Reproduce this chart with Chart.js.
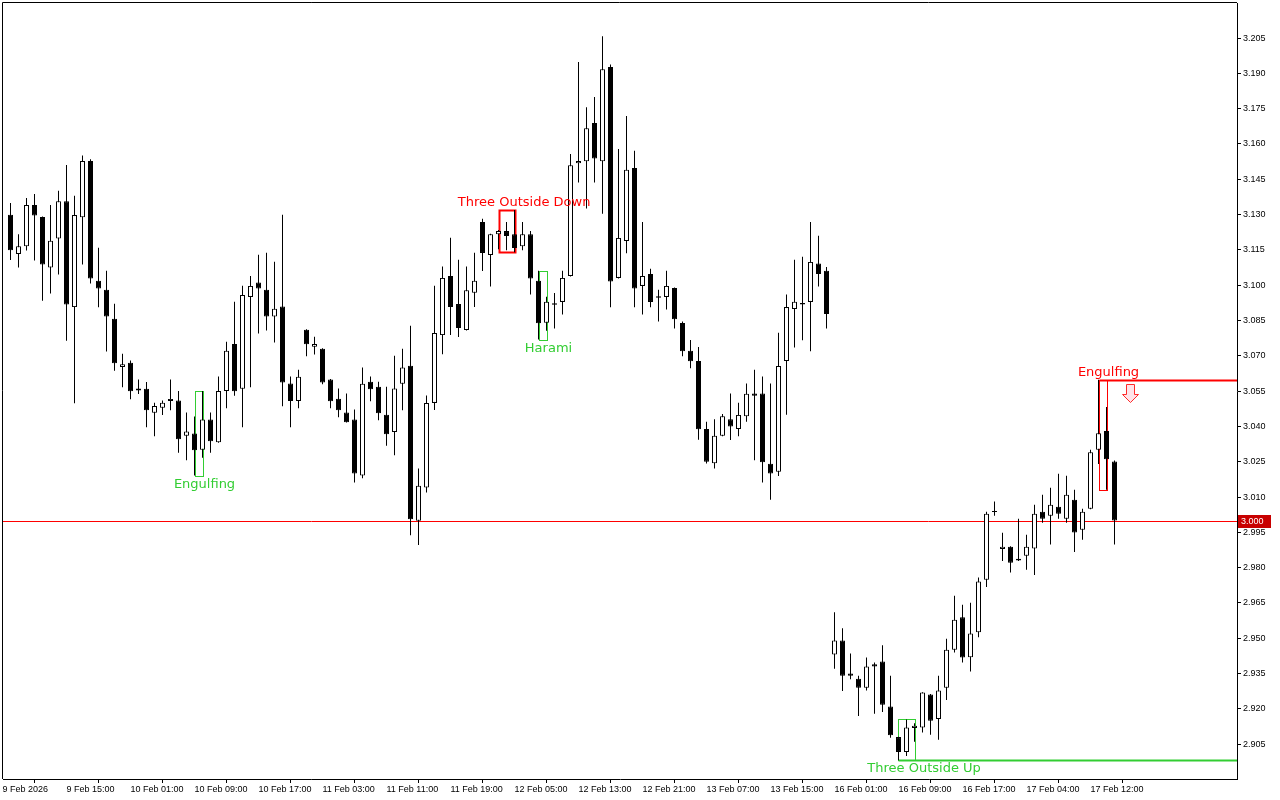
<!DOCTYPE html>
<html lang="en">
<head>
<meta charset="UTF-8">
<title>H1 Candles</title>
<script src="https://cdn.jsdelivr.net/npm/chart.js"></script>
<style>
  html, body { margin: 0; padding: 0; background: #fff; }
  #wrap { width: 1280px; height: 800px; }
</style>
</head>
<body>
<div id="wrap"><canvas id="priceChart"></canvas></div>
<script>
// H1 bars, 9 Feb 2026 .. 17 Feb 2026 (bar index 0 = first visible bar)
const opens = [
  3.1299, 3.1133, 3.1166, 3.1341, 3.1290, 3.1075, 3.1198, 3.1357, 3.0907, 3.1289,
  3.1528, 3.1019, 3.0981, 3.0858, 3.0652, 3.0671, 3.0553, 3.0560, 3.0458, 3.0479,
  3.0508, 3.0510, 3.0360, 3.0370, 3.0301, 3.0429, 3.0333, 3.0551, 3.0750, 3.0560,
  3.0950, 3.1011, 3.0981, 3.0867, 3.0909, 3.0582, 3.0508, 3.0811, 3.0738, 3.0730,
  3.0599, 3.0518, 3.0459, 3.0429, 3.0191, 3.0590, 3.0569, 3.0450, 3.0376, 3.0581,
  3.0658, 2.9999, 3.0141, 3.0500, 3.0788, 3.1039, 3.0920, 3.0810, 3.0968, 3.1269,
  3.1128, 3.1217, 3.1230, 3.1217, 3.1166, 3.1217, 3.1019, 3.0841, 3.0917, 3.0929,
  3.1039, 3.1518, 3.1527, 3.1689, 3.1527, 3.1927, 3.1031, 3.1188, 3.1498, 3.0997,
  3.1048, 3.0947, 3.0950, 3.0988, 3.0839, 3.0722, 3.0678, 3.0389, 3.0244, 3.0360,
  3.0430, 3.0389, 3.0443, 3.0540, 3.0540, 3.0241, 3.0207, 3.0678, 3.0899, 3.0918,
  3.0929, 3.1092, 3.1061, 2.9431, 2.9490, 2.9350, 2.9328, 2.9290, 2.9390, 2.9401,
  2.9210, 2.9080, 2.9017, 2.9119, 2.9121, 2.9261, 2.9157, 2.9290, 2.9451, 2.9589,
  2.9419, 2.9525, 2.9749, 3.0036, 2.9879, 2.9889, 2.9830, 2.9851, 2.9881, 3.0037,
  3.0020, 3.0059, 3.0008, 3.0088, 2.9961, 3.0050, 3.0301, 3.0381, 3.0251
];
const highs = [
  3.1349, 3.1217, 3.1371, 3.1388, 3.1292, 3.1341, 3.1401, 3.1511, 3.1380, 3.1551,
  3.1535, 3.1159, 3.1061, 3.0921, 3.0709, 3.0680, 3.0599, 3.0589, 3.0501, 3.0510,
  3.0599, 3.0551, 3.0459, 3.0442, 3.0551, 3.0459, 3.0612, 3.0760, 3.0930, 3.0998,
  3.1039, 3.1129, 3.1138, 3.1100, 3.1299, 3.0612, 3.0641, 3.0813, 3.0781, 3.0732,
  3.0601, 3.0561, 3.0540, 3.0472, 3.0650, 3.0612, 3.0590, 3.0569, 3.0700, 3.0730,
  3.0828, 3.0221, 3.0531, 3.0998, 3.1079, 3.1202, 3.1108, 3.1079, 3.1138, 3.1282,
  3.1219, 3.1235, 3.1269, 3.1320, 3.1269, 3.1230, 3.1061, 3.0951, 3.0967, 3.1061,
  3.1557, 3.1948, 3.1756, 3.1800, 3.2058, 3.1938, 3.1579, 3.1719, 3.1571, 3.1269,
  3.1070, 3.0981, 3.1061, 3.0990, 3.0846, 3.0767, 3.0737, 3.0420, 3.0430, 3.0453,
  3.0540, 3.0501, 3.0582, 3.0641, 3.0612, 3.0582, 3.0798, 3.0961, 3.1108, 3.1121,
  3.1269, 3.1210, 3.1077, 2.9610, 2.9542, 2.9435, 2.9341, 2.9418, 2.9397, 2.9470,
  2.9341, 2.9082, 2.9155, 2.9139, 2.9271, 2.9263, 2.9341, 2.9498, 2.9681, 2.9642,
  2.9651, 2.9758, 3.0037, 3.0081, 2.9948, 2.9891, 3.0008, 2.9940, 3.0067, 3.0110,
  3.0139, 3.0199, 3.0190, 3.0131, 3.0050, 3.0301, 3.0598, 3.0483, 3.0255
];
const lows = [
  3.1107, 3.1075, 3.1147, 3.1105, 3.0934, 3.0965, 3.1046, 3.0764, 3.0498, 3.1088,
  3.1007, 3.0906, 3.0718, 3.0637, 3.0566, 3.0515, 3.0538, 3.0396, 3.0358, 3.0449,
  3.0469, 3.0288, 3.0256, 3.0191, 3.0267, 3.0288, 3.0331, 3.0477, 3.0530, 3.0396,
  3.0566, 3.0795, 3.0808, 3.0757, 3.0486, 3.0396, 3.0477, 3.0698, 3.0706, 3.0579,
  3.0477, 3.0439, 3.0417, 3.0162, 3.0180, 3.0507, 3.0426, 3.0318, 3.0278, 3.0469,
  2.9938, 2.9896, 3.0119, 3.0470, 3.0707, 3.0788, 3.0780, 3.0808, 3.0907, 3.1060,
  3.0995, 3.1153, 3.1149, 3.1140, 3.1149, 3.0961, 3.0769, 3.0807, 3.0816, 3.0876,
  3.1037, 3.1436, 3.1326, 3.1436, 3.1304, 3.0906, 3.1029, 3.1136, 3.0906, 3.0876,
  3.0906, 3.0846, 3.0897, 3.0816, 3.0698, 3.0647, 3.0343, 3.0242, 3.0221, 3.0358,
  3.0342, 3.0358, 3.0420, 3.0256, 3.0162, 3.0088, 3.0189, 3.0450, 3.0735, 3.0766,
  3.0719, 3.0995, 3.0816, 2.9370, 2.9276, 2.9326, 2.9170, 2.9278, 2.9179, 2.9187,
  2.9077, 2.8982, 2.9000, 2.9060, 2.9100, 2.9090, 2.9069, 2.9238, 2.9439, 2.9397,
  2.9359, 2.9504, 2.9718, 3.0020, 2.9828, 2.9779, 2.9828, 2.9791, 2.9769, 2.9991,
  2.9898, 3.0008, 2.9991, 2.9866, 2.9919, 3.0048, 3.0240, 3.0131, 2.9898
];
const closes = [
  3.1149, 3.1166, 3.1341, 3.1296, 3.1088, 3.1189, 3.1357, 3.0918, 3.1298, 3.1528,
  3.1029, 3.0986, 3.0867, 3.0668, 3.0664, 3.0549, 3.0561, 3.0469, 3.0487, 3.0501,
  3.0517, 3.0346, 3.0378, 3.0299, 3.0429, 3.0337, 3.0551, 3.0722, 3.0549, 3.0958,
  3.0997, 3.0986, 3.0867, 3.0900, 3.0587, 3.0508, 3.0611, 3.0749, 3.0750, 3.0587,
  3.0507, 3.0469, 3.0418, 3.0200, 3.0581, 3.0558, 3.0456, 3.0367, 3.0561, 3.0650,
  3.0006, 3.0148, 3.0500, 3.0797, 3.1031, 3.0907, 3.0818, 3.0979, 3.1019, 3.1137,
  3.1217, 3.1230, 3.1209, 3.1158, 3.1217, 3.1029, 3.0838, 3.0930, 3.0923, 3.1031,
  3.1510, 3.1528, 3.1667, 3.1538, 3.1917, 3.1016, 3.1201, 3.1490, 3.0986, 3.1039,
  3.0929, 3.0953, 3.0997, 3.0855, 3.0719, 3.0677, 3.0388, 3.0250, 3.0360, 3.0443,
  3.0400, 3.0449, 3.0539, 3.0530, 3.0248, 3.0200, 3.0657, 3.0907, 3.0930, 3.0924,
  3.1099, 3.1048, 3.0878, 2.9490, 2.9341, 2.9341, 2.9290, 2.9380, 2.9380, 2.9217,
  2.9088, 2.9017, 2.9121, 2.9128, 2.9269, 2.9149, 2.9278, 2.9451, 2.9579, 2.9418,
  2.9520, 2.9741, 3.0029, 3.0041, 2.9889, 2.9821, 2.9838, 2.9889, 3.0029, 3.0008,
  3.0067, 3.0029, 3.0110, 2.9949, 3.0037, 3.0290, 3.0371, 3.0261, 3.0000
];

// time axis: bar index of each label
const timeTickBars = [-1, 7, 15, 23, 31, 39, 47, 55, 63, 71, 79, 87, 95, 103, 111, 119, 127, 135];
const timeTickLabels = [
  '9 Feb 2026', '9 Feb 15:00', '10 Feb 01:00', '10 Feb 09:00', '10 Feb 17:00',
  '11 Feb 03:00', '11 Feb 11:00', '11 Feb 19:00', '12 Feb 05:00', '12 Feb 13:00',
  '12 Feb 21:00', '13 Feb 07:00', '13 Feb 15:00', '16 Feb 01:00', '16 Feb 09:00',
  '16 Feb 17:00', '17 Feb 04:00', '17 Feb 12:00'
];
const priceTicks = [2.905, 2.920, 2.935, 2.950, 2.965, 2.980, 2.995, 3.010, 3.025, 3.040,
  3.055, 3.070, 3.085, 3.100, 3.115, 3.130, 3.145, 3.160, 3.175, 3.190, 3.205];
const lastPrice = 3.000;

// candlestick patterns found (first bar, last bar)
const patterns = [
  { from: 23, to: 24, name: 'Engulfing', side: 'bull' },
  { from: 61, to: 63, name: 'Three Outside Down', side: 'bear' },
  { from: 66, to: 67, name: 'Harami', side: 'bull' },
  { from: 111, to: 113, name: 'Three Outside Up', side: 'bull', extend: true },
  { from: 136, to: 137, name: 'Engulfing', side: 'bear', extend: true, arrow: true }
];

const GREEN = '#32cd32';
const RED = '#ff0000';
const axisFont = { family: "'Liberation Sans', Arial, sans-serif", size: 9 };

const bodies = opens.map((o, i) => ({ x: i, y: [o, closes[i]] }));
const wicks = lows.map((l, i) => ({ x: i, y: [l, highs[i]] }));
const bodyFill = opens.map((o, i) => closes[i] >= o ? '#ffffff' : '#000000');

function patternBox(chart, p) {
  const { scales: { x, y } } = chart;
  let hi = -Infinity, lo = Infinity;
  for (let i = p.from; i <= p.to; i++) {
    hi = Math.max(hi, highs[i]);
    lo = Math.min(lo, lows[i]);
  }
  return {
    x0: Math.round(x.getPixelForValue(p.from)) + 0.5,
    x1: Math.round(x.getPixelForValue(p.to)) + 0.5,
    top: Math.round(y.getPixelForValue(hi)) + 0.5,
    bot: Math.round(y.getPixelForValue(lo)) + 0.5
  };
}

// price line + pattern boxes under the candles; labels, arrow, price tag on top
const markers = {
  id: 'markers',
  beforeDatasetsDraw(chart) {
    const { ctx, chartArea: a, scales: { y } } = chart;
    ctx.save();
    const py = Math.round(y.getPixelForValue(lastPrice)) + 0.5;
    ctx.strokeStyle = '#ff0000';
    ctx.lineWidth = 1;
    ctx.beginPath();
    ctx.moveTo(a.left, py);
    ctx.lineTo(a.right, py);
    ctx.stroke();

    patterns.forEach(p => {
      const b = patternBox(chart, p);
      ctx.strokeStyle = p.side === 'bull' ? GREEN : RED;
      ctx.lineWidth = p.name === 'Three Outside Down' ? 2 : 1;
      ctx.strokeRect(b.x0, b.top, b.x1 - b.x0, b.bot - b.top);
      if (p.extend) {
        const ly = p.side === 'bull' ? b.bot : b.top;
        ctx.lineWidth = 2;
        ctx.beginPath();
        ctx.moveTo(b.x0, ly);
        ctx.lineTo(a.right, ly);
        ctx.stroke();
      }
    });
    ctx.restore();
  },
  afterDatasetsDraw(chart) {
    const { ctx, chartArea: a, scales: { x } } = chart;
    ctx.save();
    patterns.forEach(p => {
      const b = patternBox(chart, p);
      const n = p.to - p.from + 1;
      ctx.fillStyle = p.side === 'bull' ? GREEN : RED;
      ctx.font = "13px 'DejaVu Sans', sans-serif";
      ctx.textAlign = 'center';
      ctx.textBaseline = 'middle';
      const tx = x.getPixelForValue(p.from + (n === 2 ? 1.25 : 3.2));
      const ty = p.side === 'bull' ? b.bot + 8 : b.top - 8;
      ctx.fillText(p.name, tx, ty);
      if (p.arrow) {
        const cx = Math.round(x.getPixelForValue(p.to + 2.9)) + 0.5;
        const t = b.top + 4;
        ctx.beginPath();
        ctx.moveTo(cx - 4, t);
        ctx.lineTo(cx + 4, t);
        ctx.lineTo(cx + 4, t + 10);
        ctx.lineTo(cx + 8, t + 10);
        ctx.lineTo(cx, t + 18);
        ctx.lineTo(cx - 8, t + 10);
        ctx.lineTo(cx - 4, t + 10);
        ctx.closePath();
        ctx.fillStyle = '#ffe4ea';
        ctx.fill();
        ctx.strokeStyle = '#ff2a2a';
        ctx.lineWidth = 1;
        ctx.stroke();
      }
    });
    // frame left + top
    ctx.strokeStyle = '#000';
    ctx.lineWidth = 1;
    ctx.beginPath();
    ctx.moveTo(a.left - 0.5, a.bottom);
    ctx.lineTo(a.left - 0.5, a.top - 0.5);
    ctx.lineTo(a.right, a.top - 0.5);
    ctx.stroke();
    ctx.restore();
  },
  afterDraw(chart) {
    const { ctx, chartArea: a, scales: { y } } = chart;
    const py = Math.round(y.getPixelForValue(lastPrice));
    ctx.save();
    ctx.fillStyle = '#c80000';
    ctx.fillRect(a.right + 1, py - 6, 33, 13);
    ctx.fillStyle = '#ffffff';
    ctx.font = "9px 'Liberation Sans', Arial, sans-serif";
    ctx.textAlign = 'left';
    ctx.textBaseline = 'middle';
    ctx.fillText(lastPrice.toFixed(3), a.right + 4, py + 1);
    ctx.restore();
  }
};

new Chart(document.getElementById('priceChart'), {
  type: 'bar',
  data: {
    datasets: [
      {
        label: 'body',
        data: bodies,
        backgroundColor: bodyFill,
        borderColor: '#000000',
        borderWidth: 1,
        borderSkipped: false,
        barThickness: 5,
        inflateAmount: 0
      },
      {
        label: 'wick',
        data: wicks,
        backgroundColor: '#000000',
        borderWidth: 0,
        barThickness: 1,
        inflateAmount: 0
      }
    ]
  },
  options: {
    responsive: true,
    maintainAspectRatio: false,
    animation: false,
    devicePixelRatio: 1,
    grouped: false,
    layout: { padding: { left: 3, top: 3, right: 0, bottom: 0 } },
    plugins: { legend: { display: false }, tooltip: { enabled: false } },
    scales: {
      x: {
        type: 'linear',
        min: -0.9375,
        max: 153.3125,
        offset: false,
        grid: { drawOnChartArea: false, drawTicks: true, tickLength: 4, color: '#000' },
        border: { display: true, color: '#000' },
        ticks: {
          autoSkip: false,
          maxRotation: 0,
          align: 'start',
          padding: 1,
          color: '#000',
          font: axisFont,
          callback: (v, i) => timeTickLabels[i]
        },
        afterBuildTicks: s => { s.ticks = timeTickBars.map(v => ({ value: v })); },
        afterFit: s => { s.height = 21; s.paddingLeft = 0; s.paddingRight = 0; }
      },
      y: {
        type: 'linear',
        position: 'right',
        min: 2.8902,
        max: 3.2199,
        grid: { drawOnChartArea: false, drawTicks: true, tickLength: 4, color: '#000' },
        border: { display: true, color: '#000' },
        ticks: {
          padding: 2,
          color: '#000',
          font: axisFont,
          callback: v => Number(v).toFixed(3)
        },
        afterBuildTicks: s => { s.ticks = priceTicks.map(v => ({ value: v })); },
        afterFit: s => { s.width = 43; s.paddingTop = 0; s.paddingBottom = 0; }
      }
    }
  },
  plugins: [markers]
});
</script>
</body>
</html>
